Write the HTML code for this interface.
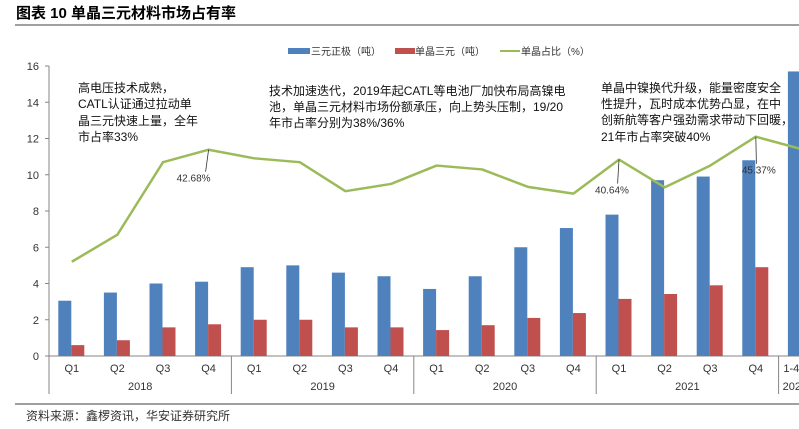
<!DOCTYPE html>
<html><head><meta charset="utf-8">
<style>
body{margin:0;background:#fff;width:799px;height:424px;overflow:hidden;font-family:"Liberation Sans","Noto Sans CJK SC",sans-serif;}
</style></head>
<body>
<svg id="chart" width="799" height="424" xmlns="http://www.w3.org/2000/svg" font-family="Liberation Sans, Noto Sans CJK SC, sans-serif">
<text x="16" y="18" font-size="15" font-weight="bold" fill="#000">图表 10 单晶三元材料市场占有率</text>
<line x1="15" y1="25" x2="799" y2="25" stroke="#808080" stroke-width="1.5"/>
<line x1="15" y1="404" x2="799" y2="404" stroke="#808080" stroke-width="1.5"/>
<text x="26" y="420" font-size="12" fill="#333">资料来源：鑫椤资讯，华安证券研究所</text>
<g id="legend" font-size="10" fill="#333">
<rect x="288" y="48" width="22" height="6" fill="#4F81BD"/><text x="311" y="55">三元正极（吨）</text>
<rect x="395" y="48" width="20" height="6" fill="#C0504D"/><text x="415" y="55">单晶三元（吨）</text>
<line x1="500" y1="51" x2="520" y2="51" stroke="#9BBB59" stroke-width="2"/><text x="521" y="55">单晶占比（%）</text>
</g>
<g id="axes"></g>
<g id="bars"></g>
<g id="line"></g>
<g font-size="12" fill="#111">
<text x="78" y="92">高电压技术成熟，</text><text x="78" y="108">CATL认证通过拉动单</text><text x="78" y="125">晶三元快速上量，全年</text><text x="78" y="141">市占率33%</text>
</g>
<g font-size="12" fill="#111">
<text x="269" y="95">技术加速迭代，2019年起CATL等电池厂加快布局高镍电</text><text x="269" y="111">池，单晶三元材料市场份额承压，向上势头压制，19/20</text><text x="269" y="127">年市占率分别为38%/36%</text>
</g>
<g font-size="12" fill="#111">
<text x="601" y="92">单晶中镍换代升级，能量密度安全</text><text x="601" y="108">性提升，瓦时成本优势凸显，在中</text><text x="601" y="124">创新航等客户强劲需求带动下回暖，</text><text x="601" y="141">21年市占率突破40%</text>
</g>
</svg>
<script>
const quarters=["Q1","Q2","Q3","Q4","Q1","Q2","Q3","Q4","Q1","Q2","Q3","Q4","Q1","Q2","Q3","Q4","1-4"];
const years=["2018","2019","2020","2021","2022"];
const ternary=[3.05,3.5,4.0,4.1,4.9,5.0,4.6,4.4,3.7,4.4,6.0,7.06,7.8,9.7,9.9,10.8,15.7];
const single=[0.6,0.87,1.58,1.75,2.0,2.0,1.58,1.58,1.43,1.7,2.1,2.37,3.15,3.42,3.9,4.9,6.7];
const share=[19.5,25.1,40.1,42.68,40.9,40.1,34.1,35.6,39.4,38.6,35.0,33.6,40.64,34.9,39.4,45.37,42.8];
const yTicks=[0,2,4,6,8,10,12,14,16];
const labeled={3:[-15,30],12:[-7,32],15:[3,35]};
const NS="http://www.w3.org/2000/svg";
const x0=49,cw=45.6,y0=356,ppu=18.125,shareMax=60,leftMax=16;
const xc=i=>x0+cw*(i+0.5);
const yL=v=>y0-v*ppu;
const yR=v=>y0-v/shareMax*leftMax*ppu;
function mk(tag,attrs,parent,text){const e=document.createElementNS(NS,tag);for(const k in attrs)e.setAttribute(k,attrs[k]);if(text!==undefined)e.textContent=text;parent.appendChild(e);return e;}
const ax=document.getElementById('axes'),bars=document.getElementById('bars'),ln=document.getElementById('line');
mk('line',{x1:x0,y1:yL(16),x2:x0,y2:y0,stroke:'#868686'},ax);
mk('line',{x1:x0,y1:y0,x2:799,y2:y0,stroke:'#868686'},ax);
yTicks.forEach(t=>{
  mk('line',{x1:x0-4,y1:yL(t),x2:x0,y2:yL(t),stroke:'#868686'},ax);
  const tx=mk('text',{x:x0-10,y:yL(t)+4,'font-size':11,'text-anchor':'end',fill:'#333'},ax,String(t));
  
  
});
quarters.forEach((q,i)=>{
  const tx=mk('text',{x:i===16?xc(i)-18:xc(i),y:372,'font-size':11,'text-anchor':i===16?'start':'middle',fill:'#333'},ax,q);
  
  
});
years.forEach((yr,j)=>{
  const xs=x0+cw*4*j;
  const n=Math.min(4,quarters.length-4*j);
  mk('line',{x1:xs,y1:y0,x2:xs,y2:394,stroke:'#868686'},ax);
  const tx=mk('text',{x:n<4?xs+4:xs+cw*n/2,y:390,'font-size':11,'text-anchor':n<4?'start':'middle',fill:'#333'},ax,yr);
  
  
});
ternary.forEach((v,i)=>{
  const r=mk('rect',{x:xc(i)-13.5,y:yL(v),width:13,height:v*ppu,fill:'#4F81BD'},bars);
  
  
});
single.forEach((v,i)=>{
  const r=mk('rect',{x:xc(i)-0.5,y:yL(v),width:13,height:v*ppu,fill:'#C0504D'},bars);
  
  
});
const pts=share.map((v,i)=>xc(i)+','+yR(v)).join(' ');
const pl=mk('polyline',{points:pts,fill:'none',stroke:'#9BBB59','stroke-width':2.5,'stroke-linejoin':'round'},ln);


for(const k in labeled){
  const i=+k,px=xc(i),py=yR(share[i]),d=labeled[k];
  mk('line',{x1:px,y1:py,x2:px+d[0]*0.2,y2:py+d[1]-8,stroke:'#333','stroke-width':0.8},ln);
  const tx=mk('text',{x:px+d[0],y:py+d[1]+2,'font-size':10,'text-anchor':'middle',fill:'#333'},ln,share[i].toFixed(2)+'%');
  
  
}
</script>
</body></html>
